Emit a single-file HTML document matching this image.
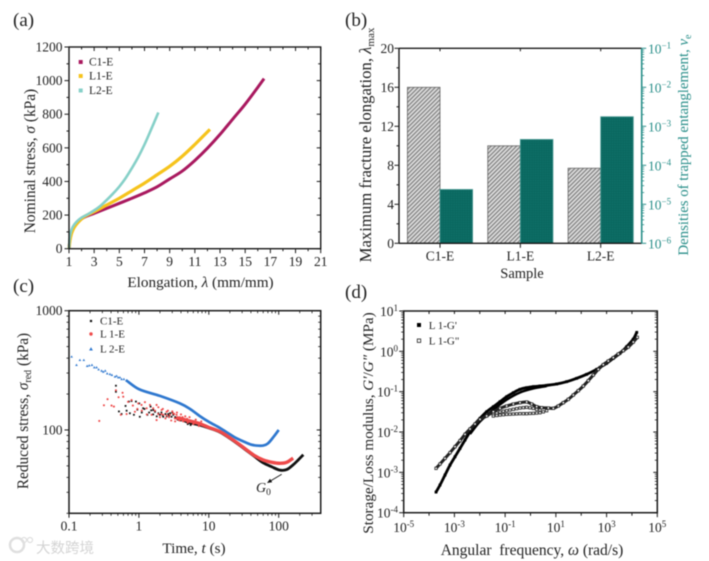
<!DOCTYPE html>
<html lang="en">
<head>
<meta charset="utf-8">
<title>Stress and rheology chart panels</title>
<style>
html,body{margin:0;padding:0;background:#fff;}
#figure{display:block;filter:blur(0.4px);font-family:"Liberation Serif","Noto Serif CJK SC",serif;fill:#222;}
</style>
</head>
<body>
<svg id="figure" width="709" height="561" viewBox="0 0 709 561" xmlns="http://www.w3.org/2000/svg">
  <defs>
    <pattern id="hatch-grey" width="3" height="3" patternUnits="userSpaceOnUse" patternTransform="rotate(45)">
      <rect width="3" height="3" fill="#dcdcdc"/>
      <rect width="1.1" height="3" fill="#777"/>
    </pattern>
    <pattern id="hatch-teal" width="2.4" height="2.4" patternUnits="userSpaceOnUse">
      <rect width="2.4" height="2.4" fill="#0a6860"/>
      <rect width="1" height="1" fill="#13756d"/>
    </pattern>
  </defs>

  <g id="pa">
    <text x="13" y="26" font-size="19">(a)</text>
    <text transform="translate(35,161) rotate(-90)" text-anchor="middle" font-size="15.4">Nominal stress, <tspan font-style="italic">σ</tspan> (kPa)</text>
    <text x="200.5" y="287" text-anchor="middle" font-size="15.2">Elongation, <tspan font-style="italic">λ</tspan> (mm/mm)</text>
  </g>
  <g id="pb">
    <text x="345" y="26" font-size="19">(b)</text>
    <text transform="translate(371,145) rotate(-90)" text-anchor="middle" font-size="16.7">Maximum fracture elongation, <tspan font-style="italic">λ</tspan><tspan font-size="11" dy="3">max</tspan></text>
    <text transform="translate(688,145) rotate(-90)" text-anchor="middle" font-size="14.8" fill="#2a8f8a">Densities of trapped entanglement, <tspan font-style="italic">ν</tspan><tspan font-size="10" dy="3">e</tspan></text>
    <text x="522" y="278" text-anchor="middle" font-size="14.5">Sample</text>
  </g>
  <g id="pc">
    <text x="13" y="292" font-size="19">(c)</text>
    <text transform="translate(28,411) rotate(-90)" text-anchor="middle" font-size="15.3">Reduced stress, <tspan font-style="italic">σ</tspan><tspan font-size="10" dy="3">red</tspan><tspan dy="-3"> (kPa)</tspan></text>
    <text x="194" y="553" text-anchor="middle" font-size="15.2">Time, <tspan font-style="italic">t</tspan> (s)</text>
    <text x="256" y="492" font-size="14" font-style="italic">G<tspan font-size="9.5" font-style="normal" dy="3">0</tspan></text>
  </g>
  <g id="pd">
    <text x="345" y="298" font-size="19">(d)</text>
    <text transform="translate(373,423) rotate(-90)" text-anchor="middle" font-size="15.2">Storage/Loss modulus, <tspan font-style="italic">G′</tspan>/<tspan font-style="italic">G″</tspan> (MPa)</text>
    <text x="532" y="555" text-anchor="middle" font-size="15.5" xml:space="preserve">Angular  frequency, <tspan font-style="italic">ω</tspan> (rad/s)</text>
  </g>

  <g opacity="0.9">
    <circle cx="17" cy="545" r="7" fill="none" stroke="#dcdcdc" stroke-width="2.5"/>
    <circle cx="24" cy="540" r="2.5" fill="none" stroke="#dcdcdc" stroke-width="1.2"/>
    <circle cx="30" cy="540" r="2.5" fill="none" stroke="#dcdcdc" stroke-width="1.2"/>
    <text x="36" y="553" font-size="14.5" fill="#d0d0d0" style="font-family:'Noto Sans CJK SC',sans-serif">大数跨境</text>
  </g>
</svg>

<script>
// ---------- Panel (a) data ----------
var aXTicks = [1,3,5,7,9,11,13,15,17,19,21];
var aYTicks = [0,200,400,600,800,1000,1200];
var c1Lambda = [1,1.05,1.15,1.3,1.5,1.8,2.2,3,4,5,6,7,8,9,10,11,12,13,14,15,16,16.5];
var c1Stress = [0,40,80,115,140,165,187,210,240,270,300,332,368,415,462,525,598,680,770,860,960,1012];
var l1Lambda = [1,1.08,1.2,1.4,1.7,2.2,3,4,5,6,7,8,9,10,11,12,12.2];
var l1Stress = [0,50,90,125,155,190,220,260,300,345,390,440,490,550,620,695,710];
var l2Lambda = [1,1.05,1.15,1.3,1.6,2,2.5,3,3.5,4,4.5,5,5.5,6,6.5,7,7.5,8.1];
var l2Stress = [0,60,100,130,160,185,205,228,255,290,328,370,420,480,545,620,705,810];

// ---------- Panel (b) data ----------
var bSamples = ['C1-E','L1-E','L2-E'];
var bElongation = [16,10,7.7];
var bEntanglement = [2.4e-5,4.6e-4,1.76e-3];
var bLeftTicks = [0,4,8,12,16,20];
var bRightExponents = [-6,-5,-4,-3,-2,-1];

// ---------- Panel (c) data ----------
var cXTicks = [0.1,1,10,100];
var cYTicks = [100,1000];
var blueLineT = [0.65,1,2,3.86,5.3,7.4,10,14.4,20,25,30,40,48,60,70,85,100];
var blueLineS = [262,220,193,167,151,131,117,104,92,85,81,75.4,74,74,77,88,100];
var blueDotsT = [0.109,0.128,0.143,0.163,0.182,0.195,0.213,0.23,0.248,0.265,0.292,0.309,0.33,0.352,0.385,0.411,0.454,0.479,0.506,0.535,0.565,0.61];
var blueDotsS = [412,351,386,386,344,348,351,335,335,322,314,308,314,298,294,289,280,284,276,276,267,267];
var blackLineT = [4.5,5,6,7.4,10,14.4,20,27,35,45,60,80,104,130,161,190,225];
var blackLineS = [119,116,113,110,104,96,85,75,67,60,53,49,46,46.5,51,56,62];
var blackDotsT = [0.469,0.469,0.518,0.565,0.644,0.667,0.743,0.72,0.785,0.906,1.01,0.848,1.03,1.15,1.32,1.47,1.6,2,2.23,2.63,2.93,1.2,1.4,1.6,1.8,2.1,2.4,2.7,3,3.3,3.6,4,4.5,5,5.5,0.95,1.1,1.5,1.7,1.9,2.2,2.5,2.8,3.1,3.4];
var blackDotsS = [235,209,143,136,159,145,138,173,175,173,167,134,129,152,134,157,147,134,129,136,129,150,140,135,130,140,136,132,140,128,122,120,119,112,110,148,140,146,142,138,132,130,138,134,126];
var redLineT = [3.4,4,5,6,7.4,10,14.4,20,27,34.7,45,60,80,104,130,161];
var redLineS = [126,124,120,117,113,105,97,86,76,68,61,56,53.5,52.5,53.5,58];
var redDotsT = [0.271,0.316,0.356,0.406,0.439,0.469,0.512,0.584,0.597,0.552,0.667,0.785,0.877,0.978,1.09,1.22,1.29,1.44,1.6,1.79,1.52,1.79,1.89,2.11,2.23,2.49,2.78,3.1,3.27,3.46,3.86,4.31,4.81,2,2.2,2.4,2.6,2.9,3,3.3,3.5,3.8,4,4.3,4.6,5,5.3,6,6.5,7.2,7.8,1.3,1.7,1.1,1.9,2.1,2.5,2.7,3.2,3.6,4.2,4.4,4.9,5.6,0.7,0.82,0.95];
var redDotsS = [119,161,181,160,157,215,188,205,190,134,136,178,142,167,162,171,152,162,152,162,134,121,136,147,134,142,134,138,125,134,128,125,121,128,150,125,145,120,143,118,140,120,135,118,130,115,128,112,122,108,118,135,145,145,155,136,132,128,136,128,128,122,124,118,172,160,150];

// ---------- Panel (d) data (values in log10 units) ----------
var dXExponents = [-5,-3,-1,1,3,5];
var dYExponents = [-4,-3,-2,-1,0,1];
var storageLogW = [-3.725,-3.568,-3.371,-3.173,-2.976,-2.779,-2.582,-2.385,-2.188,-1.991,-1.728,-1.465,-1.202,-0.94,-0.677,-0.414,-0.151,0.112,0.374,0.637,1.032,1.426,1.82,2.214,2.608,2.74,3.0,3.265,3.53,3.79,4.05,4.19];
var storageLogG = [-3.49,-3.314,-3.066,-2.818,-2.612,-2.405,-2.198,-1.992,-1.802,-1.661,-1.496,-1.372,-1.248,-1.124,-1.025,-0.942,-0.901,-0.876,-0.86,-0.843,-0.81,-0.752,-0.669,-0.57,-0.446,-0.397,-0.298,-0.174,-0.05,0.116,0.3,0.471];
var storageLowLogW = [-2.385,-1.991,-1.465,-0.94,-0.414,0.112,0.637];
var storageLowLogG = [-2.05,-1.74,-1.45,-1.2,-1.02,-0.92,-0.86];
var lossLogW = [-3.725,-3.568,-3.371,-3.173,-2.976,-2.779,-2.582,-2.385,-2.188,-1.991,-1.728,-1.465,-1.202,-0.94,-0.677,-0.414,-0.151,0.046,0.243,0.44,0.703,0.9,1.097,1.294,1.491,1.689,1.886,2.083,2.28,2.477,2.674,2.871,3.068,3.265,3.463,3.66,3.857,4.054,4.212];
var lossLogG = [-2.901,-2.793,-2.653,-2.512,-2.364,-2.215,-2.058,-1.926,-1.802,-1.686,-1.603,-1.496,-1.413,-1.355,-1.306,-1.273,-1.256,-1.306,-1.372,-1.397,-1.405,-1.413,-1.355,-1.273,-1.19,-1.083,-0.975,-0.86,-0.727,-0.587,-0.446,-0.331,-0.24,-0.157,-0.066,0.017,0.107,0.231,0.347];
var lossMidLogW = [-1.465,-1.33,-1.202,-1.07,-0.94,-0.81,-0.677,-0.545,-0.414,-0.28,-0.151,-0.02,0.112,0.243,0.374];
var lossMidLogG = [-1.562,-1.53,-1.504,-1.485,-1.471,-1.455,-1.438,-1.42,-1.405,-1.395,-1.388,-1.4,-1.413,-1.44,-1.455];
var lossLowLogW = [-1.465,-1.33,-1.202,-1.07,-0.94,-0.81,-0.677,-0.545,-0.414,-0.28,-0.151,-0.02,0.112,0.243,0.374,0.505,0.637];
var lossLowLogG = [-1.603,-1.59,-1.579,-1.57,-1.562,-1.558,-1.554,-1.55,-1.545,-1.545,-1.545,-1.54,-1.537,-1.53,-1.521,-1.5,-1.471];

// ---------- helpers ----------
var NS = 'http://www.w3.org/2000/svg';
function mk(parent, tag, name, attrs, txt) {
  var e = document.createElementNS(NS, tag);
  
  
  for (var k in attrs) e.setAttribute(k, attrs[k]);
  if (txt !== undefined) e.textContent = txt;
  parent.appendChild(e);
  return e;
}
function lin(d0, d1, r0, r1) { return function (v) { return r0 + (v - d0) / (d1 - d0) * (r1 - r0); }; }
function logScale(d0, d1, r0, r1) { var f = lin(d0, d1, r0, r1); return function (v) { return f(Math.log10(v)); }; }
function line(p, name, x0, y0, x1, y1, col, w) {
  return mk(p, 'line', name, {x1: x0, y1: y0, x2: x1, y2: y1, stroke: col, 'stroke-width': w});
}
function curve(p, name, xs, ys, fx, fy, col, w) {
  var P = xs.map(function (x, i) { return [fx(x), fy(ys[i])]; });
  var dist = function (a, b) { return Math.max(Math.hypot(a[0] - b[0], a[1] - b[1]), 0.001); };
  var d = 'M' + P[0][0].toFixed(2) + ' ' + P[0][1].toFixed(2);
  for (var i = 0; i < P.length - 1; i++) {
    var p0 = P[Math.max(i - 1, 0)], p1 = P[i], p2 = P[i + 1], p3 = P[Math.min(i + 2, P.length - 1)];
    var len = dist(p1, p2), a = len / (len + dist(p0, p1)) / 3, b = len / (len + dist(p2, p3)) / 3;
    var c1x = p1[0] + (p2[0] - p0[0]) * a, c1y = p1[1] + (p2[1] - p0[1]) * a;
    var c2x = p2[0] - (p3[0] - p1[0]) * b, c2y = p2[1] - (p3[1] - p1[1]) * b;
    d += 'C' + c1x.toFixed(2) + ' ' + c1y.toFixed(2) + ' ' + c2x.toFixed(2) + ' ' + c2y.toFixed(2) + ' ' + p2[0].toFixed(2) + ' ' + p2[1].toFixed(2);
  }
  return mk(p, 'path', name, {d: d, fill: 'none', stroke: col, 'stroke-width': w, 'stroke-linejoin': 'round'});
}
function frame(p, name, l, t, r, b, w) {
  return mk(p, 'rect', name, {x: l, y: t, width: r - l, height: b - t, fill: 'none', stroke: '#1a1a1a', 'stroke-width': w});
}
function label(p, name, x, y, s, anchor, size, col) {
  return mk(p, 'text', name, {x: x, y: y, 'text-anchor': anchor, 'font-size': size || 13.5, fill: col || '#222'}, s);
}
function expLabel(p, name, x, y, exp, anchor, col) {
  var t = mk(p, 'text', name, {x: x, y: y, 'text-anchor': anchor, 'font-size': 13.5, fill: col || '#222'}, '10');
  var s = document.createElementNS(NS, 'tspan');
  s.setAttribute('font-size', '9');
  s.setAttribute('dy', '-5');
  s.textContent = String(exp);
  t.appendChild(s);
  return t;
}
function square(p, name, cx, cy, s, fill, stroke) {
  return mk(p, 'rect', name, {x: cx - s / 2, y: cy - s / 2, width: s, height: s, fill: fill, stroke: stroke || 'none', 'stroke-width': stroke ? 0.8 : 0});
}
function tri(p, name, cx, cy, s, fill) {
  return mk(p, 'polygon', name, {points: (cx) + ',' + (cy - s) + ' ' + (cx - s) + ',' + (cy + s * 0.8) + ' ' + (cx + s) + ',' + (cy + s * 0.8), fill: fill});
}
var MINORS = [2, 3, 4, 5, 6, 7, 8, 9];

// ---------- Panel (a) ----------
(function () {
  var g = document.getElementById('pa');
  var L = 69, R = 320.7, T = 47, B = 248.7;
  var x = lin(1, 21, L, R), y = lin(0, 1200, B, T);
  var i, v;
  curve(g, 'c1-e-curve', c1Lambda, c1Stress, x, y, '#a9195f', 3);
  curve(g, 'l1-e-curve', l1Lambda, l1Stress, x, y, '#f6c31c', 3.2);
  curve(g, 'l2-e-curve', l2Lambda, l2Stress, x, y, '#86d0c8', 2.6);
  frame(g, 'panel-a-frame', L, T, R, B, 1.4);
  for (v = 1; v <= 21; v++) {
    var major = (v - 1) % 2 === 0;
    line(g, 'x-tick', x(v), B, x(v), B + (major ? 4.5 : 2.5), '#1a1a1a', 1);
    line(g, 'x-tick-top', x(v), T, x(v), T + (major ? 4 : 2.5), '#1a1a1a', 1);
  }
  for (v = 0; v <= 1200; v += 100) {
    var maj = v % 200 === 0;
    line(g, 'y-tick', L - (maj ? 4.5 : 2.5), y(v), L, y(v), '#1a1a1a', 1);
    line(g, 'y-tick-right', R - (maj ? 4 : 2.5), y(v), R, y(v), '#1a1a1a', 1);
  }
  aXTicks.forEach(function (t) { label(g, 'x-tick-label', x(t), 266, String(t), 'middle'); });
  aYTicks.forEach(function (t) { label(g, 'y-tick-label', 62.5, y(t) + 4.5, String(t), 'end'); });
  var names = ['C1-E', 'L1-E', 'L2-E'], cols = ['#a9195f', '#f6c31c', '#86d0c8'], ys = [62, 76, 90.5];
  for (i = 0; i < 3; i++) {
    square(g, 'legend-marker', 80.7, ys[i], 4, cols[i]);
    label(g, 'legend-entry', 89, ys[i] + 3.5, names[i], 'start', 11.5);
  }
})();

// ---------- Panel (b) ----------
(function () {
  var g = document.getElementById('pb');
  var L = 399, R = 641.7, T = 48.3, B = 243.3, TEAL = '#2a8f8a';
  var y = lin(0, 20, B, T), yr = lin(-6, -1, B, T);
  var cx = function (i) { return 440 + i * 80.35; };
  var w = 32.6;
  bSamples.forEach(function (s, i) {
    mk(g, 'rect', 'elongation-bar-' + s, {x: cx(i) - w, y: y(bElongation[i]), width: w, height: B - y(bElongation[i]), fill: 'url(#hatch-grey)', stroke: '#666', 'stroke-width': 0.8});
    var top = yr(Math.log10(bEntanglement[i]));
    mk(g, 'rect', 'entanglement-bar-' + s, {x: cx(i), y: top, width: w, height: B - top, fill: 'url(#hatch-teal)', stroke: '#4b9a94', 'stroke-width': 0.8});
    line(g, 'x-tick', cx(i), B, cx(i), B + 4.5, '#1a1a1a', 1);
    line(g, 'x-tick-top', cx(i), T, cx(i), T + 3, '#1a1a1a', 1);
    label(g, 'x-tick-label', cx(i), 260.5, s, 'middle');
  });
  line(g, 'panel-b-left-axis', L, T, L, B, '#1a1a1a', 1.4);
  line(g, 'panel-b-top-axis', L, T, R, T, '#1a1a1a', 1.4);
  line(g, 'panel-b-bottom-axis', L, B, R, B, '#1a1a1a', 1.4);
  line(g, 'panel-b-right-axis', R, T, R, B, TEAL, 1.6);
  for (var v = 0; v <= 20; v += 2) {
    var maj = v % 4 === 0;
    line(g, 'left-tick', L - (maj ? 4.5 : 2.5), y(v), L, y(v), '#1a1a1a', 1);
  }
  bLeftTicks.forEach(function (t) { label(g, 'left-tick-label', 394, y(t) + 4.5, String(t), 'end'); });
  bRightExponents.forEach(function (e) {
    line(g, 'right-tick', R, yr(e), R + 4.5, yr(e), TEAL, 1);
    expLabel(g, 'right-tick-label', 648, yr(e) + 5, '−' + Math.abs(e), 'start', TEAL);
    if (e < -1) MINORS.forEach(function (m) {
      var p = yr(e + Math.log10(m));
      line(g, 'right-minor-tick', R, p, R + 2.5, p, TEAL, 0.8);
    });
  });
})();

// ---------- Panel (c) ----------
(function () {
  var g = document.getElementById('pc');
  var L = 69, R = 320.7, T = 310.7, B = 513.3;
  var x = function (t) { return L + (Math.log10(t) + 1) * 69.9; };
  var y = logScale(1.30103, 3, B, T);
  var i;
  blueDotsT.forEach(function (t, k) { tri(g, 'l2-e-point', x(t), y(blueDotsS[k]), 1.3, '#2f78cf'); });
  curve(g, 'l2-e-curve', blueLineT, blueLineS, x, y, '#2f78cf', 2.7);
  blackDotsT.forEach(function (t, k) { square(g, 'c1-e-point', x(t), y(blackDotsS[k]), 1.8, '#111'); });
  curve(g, 'c1-e-curve', blackLineT, blackLineS, x, y, '#111', 2.8);
  redDotsT.forEach(function (t, k) { mk(g, 'circle', 'l1-e-point', {cx: x(t), cy: y(redDotsS[k]), r: 1.05, fill: '#ee4a4a'}); });
  curve(g, 'l1-e-curve', redLineT, redLineS, x, y, '#ee4a4a', 3.4);
  frame(g, 'panel-c-frame', L, T, R, B, 1.5);
  for (i = -1; i <= 2; i++) {
    var mp = x(Math.pow(10, i));
    line(g, 'x-major-tick', mp, B, mp, B + 4.5, '#1a1a1a', 1);
    line(g, 'x-major-tick-top', mp, T, mp, T + 4, '#1a1a1a', 1);
    MINORS.forEach(function (m) {
      var v = m * Math.pow(10, i);
      if (x(v) <= R) {
        line(g, 'x-minor-tick', x(v), B, x(v), B + 2.5, '#1a1a1a', 0.8);
        line(g, 'x-minor-tick-top', x(v), T, x(v), T + 2.5, '#1a1a1a', 0.8);
      }
    });
  }
  [10, 100].forEach(function (dec) {
    MINORS.forEach(function (m) {
      var v = m * dec;
      if (v >= 20) {
        line(g, 'y-minor-tick', L - 2.5, y(v), L, y(v), '#1a1a1a', 0.8);
        line(g, 'y-minor-tick-right', R - 2.5, y(v), R, y(v), '#1a1a1a', 0.8);
      }
    });
  });
  cYTicks.forEach(function (t) {
    line(g, 'y-major-tick', L - 4.5, y(t), L, y(t), '#1a1a1a', 1);
    line(g, 'y-major-tick-right', R - 4, y(t), R, y(t), '#1a1a1a', 1);
    label(g, 'y-tick-label', 62.5, y(t) + 4.5, String(t), 'end');
  });
  cXTicks.forEach(function (t) { label(g, 'x-tick-label', x(t), 530.5, String(t), 'middle'); });
  square(g, 'legend-marker-c1', 91, 321, 2.2, '#111');
  label(g, 'legend-entry', 100, 324.5, 'C1-E', 'start', 11);
  mk(g, 'circle', 'legend-marker-l1', {cx: 91, cy: 334, r: 1.7, fill: '#ee4a4a'});
  label(g, 'legend-entry', 100, 337.5, 'L 1-E', 'start', 11);
  tri(g, 'legend-marker-l2', 91, 349, 1.9, '#2f78cf');
  label(g, 'legend-entry', 100, 352.5, 'L 2-E', 'start', 11);
  line(g, 'g0-arrow-shaft', 281.7, 474.3, 268.3, 482.3, '#111', 0.9);
  mk(g, 'polygon', 'g0-arrow-head', {points: '267,483 270,478.8 272.2,482.2', fill: '#111'});
})();

// ---------- Panel (d) ----------
(function () {
  var g = document.getElementById('pd');
  var L = 403.7, R = 657.3, T = 311, B = 512.7;
  var x = lin(-5, 5, L, R), y = lin(-4, 1, B, T);
  curve(g, 'l1-g-prime-band', storageLogW, storageLogG, x, y, '#000', 2.8);
  curve(g, 'l1-g-prime-lower-band', storageLowLogW, storageLowLogG, x, y, '#000', 2.4);
  storageLogW.forEach(function (w, k) { square(g, 'l1-g-prime-point', x(w), y(storageLogG[k]), 2.8, '#000'); });
  curve(g, 'l1-g-double-prime-band', lossLogW, lossLogG, x, y, '#222', 3);
  lossLogW.forEach(function (w, k) { square(g, 'l1-g-double-prime-point', x(w), y(lossLogG[k]), 2.4, '#fff', '#222'); });
  lossMidLogW.forEach(function (w, k) { square(g, 'l1-g-double-prime-mid-point', x(w), y(lossMidLogG[k]), 2.4, '#fff', '#222'); });
  lossLowLogW.forEach(function (w, k) { square(g, 'l1-g-double-prime-low-point', x(w), y(lossLowLogG[k]), 2.4, '#fff', '#222'); });
  frame(g, 'panel-d-frame', L, T, R, B, 1.5);
  for (var e = -5; e <= 5; e++) {
    line(g, 'x-major-tick', x(e), B, x(e), B + ((e + 5) % 2 === 0 ? 4.5 : 3), '#1a1a1a', 1);
    line(g, 'x-major-tick-top', x(e), T, x(e), T + 3, '#1a1a1a', 1);
  }
  dYExponents.forEach(function (e) {
    line(g, 'y-major-tick', L - 4.5, y(e), L, y(e), '#1a1a1a', 1);
    line(g, 'y-major-tick-right', R - 4, y(e), R, y(e), '#1a1a1a', 1);
    if (e < 1) MINORS.forEach(function (m) {
      var p = y(e + Math.log10(m));
      line(g, 'y-minor-tick', L - 2.5, p, L, p, '#1a1a1a', 0.8);
      line(g, 'y-minor-tick-right', R - 2.5, p, R, p, '#1a1a1a', 0.8);
    });
    expLabel(g, 'y-tick-label', 398, y(e) + 5, e, 'end');
  });
  dXExponents.forEach(function (e) { expLabel(g, 'x-tick-label', x(e), 532, e, 'middle'); });
  square(g, 'legend-marker-g-prime', 419, 325, 4, '#000');
  label(g, 'legend-entry', 428.7, 329, "L 1-G'", 'start', 11);
  square(g, 'legend-marker-g-double-prime', 419, 340.7, 3.4, '#fff', '#222');
  label(g, 'legend-entry', 428.7, 344.5, 'L 1-G"', 'start', 11);
})();
</script>
</body>
</html>
